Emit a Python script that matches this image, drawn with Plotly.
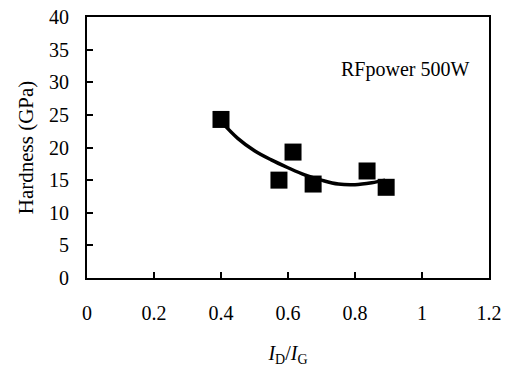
import plotly.graph_objects as go

# Data
ratio = [0.40, 0.573, 0.615, 0.675, 0.836, 0.893]
hardness = [24.3, 15.0, 19.3, 14.4, 16.4, 13.9]

# Trend curve
curve_x = [0.40, 0.45, 0.50, 0.55, 0.60, 0.65, 0.70, 0.75, 0.80, 0.85, 0.89]
curve_y = [24.0, 21.4, 19.5, 18.1, 16.9, 15.8, 15.0, 14.4, 14.3, 14.6, 15.0]

x_ticks = [0, 0.2, 0.4, 0.6, 0.8, 1.0, 1.2]
x_tick_labels = ["0", "0.2", "0.4", "0.6", "0.8", "1", "1.2"]
y_ticks = [0, 5, 10, 15, 20, 25, 30, 35, 40]

font_family = "Liberation Serif, Times New Roman, serif"

fig = go.Figure()
fig.add_trace(go.Scatter(x=curve_x, y=curve_y, mode="lines",
                         line=dict(color="black", width=3.5, shape="spline"),
                         showlegend=False, hoverinfo="skip"))
fig.add_trace(go.Scatter(x=ratio, y=hardness, mode="markers",
                         marker=dict(symbol="square", size=17, color="black"),
                         showlegend=False))

fig.add_annotation(text="RFpower 500W", x=1.145, y=31.9, xref="x", yref="y",
                   xanchor="right", yanchor="middle", showarrow=False,
                   font=dict(family=font_family, size=20, color="black"))

fig.update_layout(
    width=507, height=367,
    margin=dict(l=87, r=18, t=17, b=89),
    paper_bgcolor="white", plot_bgcolor="white",
    font=dict(family=font_family, size=20, color="black"),
    xaxis=dict(range=[0, 1.2], tickvals=x_ticks, ticktext=x_tick_labels,
               ticks="inside", ticklen=6, tickwidth=1.5, tickcolor="black",
               showline=True, linecolor="black", linewidth=2, mirror=True,
               showgrid=False, zeroline=False, ticklabelstandoff=16,
               automargin=False,
               title=dict(text="<i>I</i><sub>D</sub>/<i>I</i><sub>G</sub>",
                          font=dict(size=20), standoff=26)),
    yaxis=dict(range=[0, 40], tickvals=y_ticks,
               ticks="inside", ticklen=6, tickwidth=1.5, tickcolor="black",
               showline=True, linecolor="black", linewidth=2, mirror=True,
               showgrid=False, zeroline=False, ticklabelstandoff=12,
               automargin=False,
               title=dict(text="Hardness (GPa)", font=dict(size=21), standoff=10)),
)

fig.write_html("out.html")
